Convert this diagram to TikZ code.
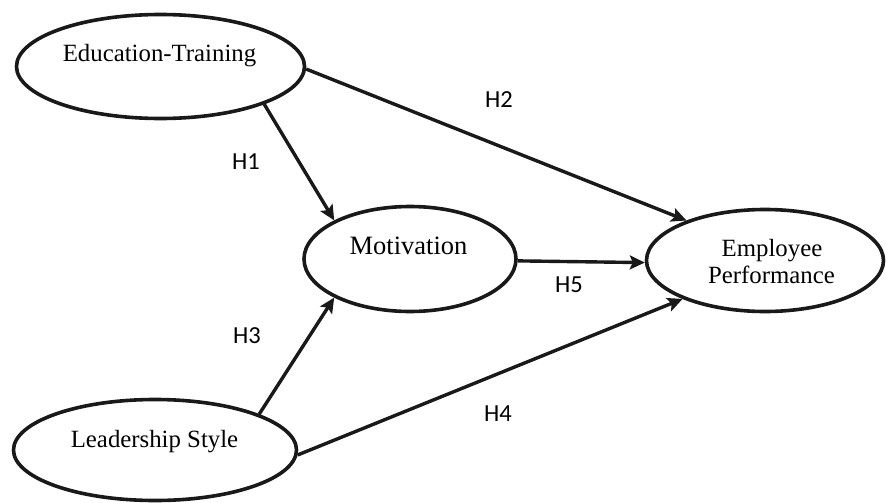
\documentclass[tikz,border=0pt]{standalone}
\usepackage{fontspec}
\setmainfont{Liberation Serif}
\newfontfamily\hfont{Carlito}
\usetikzlibrary{shapes.geometric,arrows.meta}
\tikzset{
  construct/.style={draw=black!90, ellipse, line width=3.6pt, inner sep=0pt},
  ctext/.style={anchor=base, font=\fontsize{24.8pt}{27pt}\selectfont, inner sep=0pt, align=center},
  hlab/.style={anchor=base, font=\hfont\fontsize{24.5pt}{27pt}\selectfont, inner sep=0pt},
  path/.style={draw=black!90, line width=3.4pt, -{Stealth[length=15pt,width=14pt,inset=3pt]}}
}
\begin{document}
\begin{tikzpicture}[x=1pt,y=-1pt]
\useasboundingbox (0,0) rectangle (886,503);
% constructs
\node[construct, minimum width=288pt, minimum height=104pt] (edu) at (160.5,66.5) {};
\node[construct, minimum width=212pt, minimum height=105pt] (mot) at (410,259) {};
\node[construct, minimum width=237pt, minimum height=102pt] (emp) at (765,260.5) {};
\node[construct, minimum width=283pt, minimum height=101pt] (lead) at (155,450) {};
% texts
\node[ctext] (edut) at (159.5,62) {Education-Training};
\node[ctext, font=\fontsize{26.5pt}{28pt}\selectfont] (mott) at (408.5,254) {Motivation};
\node[ctext] (empt1) at (772,256) {Employee};
\node[ctext] (empt2) at (771.5,283) {Performance};
\node[ctext] (leadt) at (154.5,447) {Leadership Style};
% paths
\draw[path] (edu.-20.5) -- (mot.153);
\draw[path] (edu.-1) -- (emp.153.4);
\draw[path] (mot.-1.6) -- (emp.181.7);
\draw[path] (lead.19.9) -- (mot.-153);
\draw[path] (lead.-2) -- (emp.-155.7);
% labels
\node[hlab] (h1) at (246,169) {H1};
\node[hlab] (h2) at (499,107) {H2};
\node[hlab] (h3) at (247,343) {H3};
\node[hlab] (h4) at (498,421) {H4};
\node[hlab] (h5) at (569,292) {H5};
\end{tikzpicture}
\end{document}
